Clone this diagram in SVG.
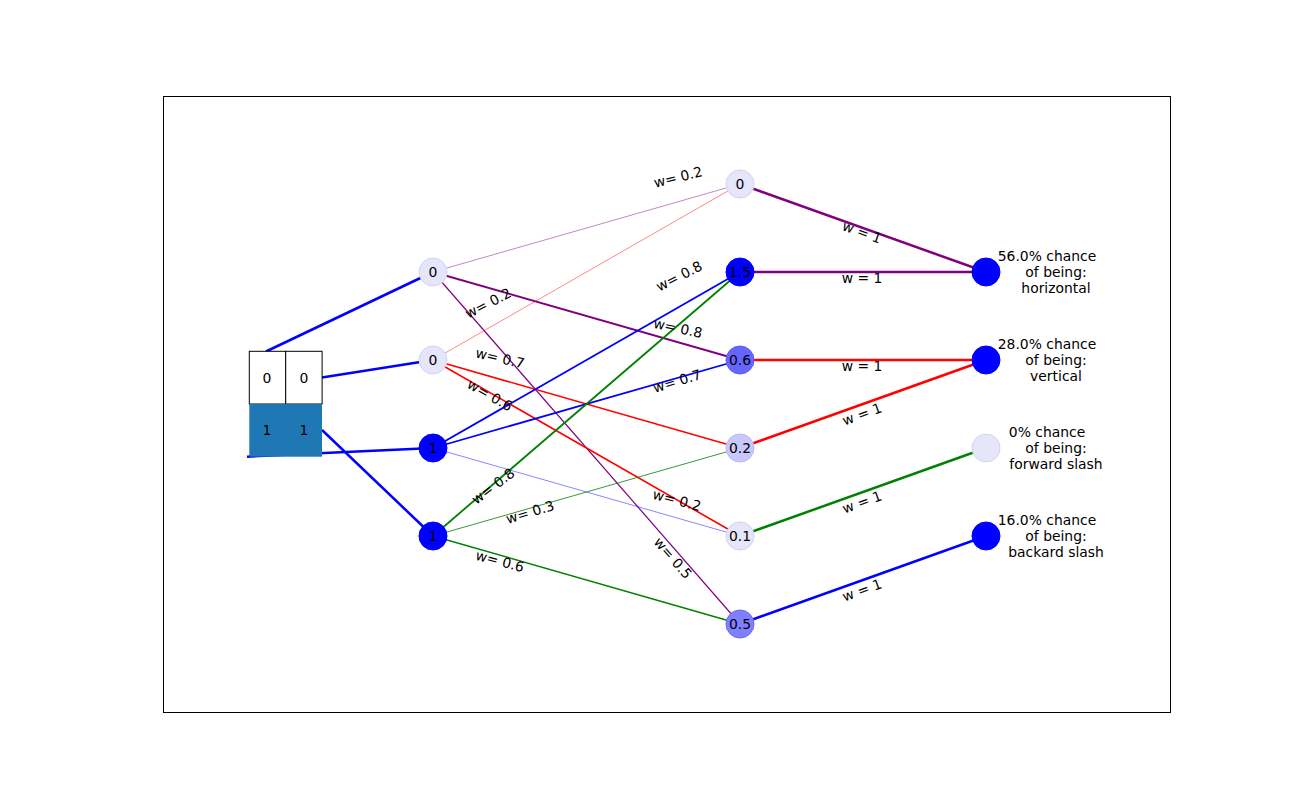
<svg xmlns="http://www.w3.org/2000/svg" width="1300" height="800" viewBox="0 0 1300 800">
<style>
text{font-family:"DejaVu Sans","Liberation Sans",sans-serif;font-size:13.9px;fill:#000}
.c{text-anchor:middle;dominant-baseline:central}
.e{fill:none;stroke-linecap:butt}
.lav{fill:#e6e6fa;stroke:#d2d2f8;stroke-width:1}
.blu{fill:#0000ff;stroke:#0000ff;stroke-width:1}
</style>
<rect x="0" y="0" width="1300" height="800" fill="#fff"/>
<rect x="163.5" y="96.5" width="1007" height="616" fill="none" stroke="#000" stroke-width="1"/>
<g id="connectors">
<line class="e" x1="266" y1="351.5" x2="433" y2="272" stroke="#0000ff" stroke-width="2.5"/>
<line class="e" x1="322" y1="377.5" x2="433" y2="360" stroke="#0000ff" stroke-width="2.5"/>
<line class="e" x1="247" y1="456.7" x2="433" y2="448" stroke="#0000ff" stroke-width="2.5"/>
<line class="e" x1="322" y1="430" x2="433" y2="536" stroke="#0000ff" stroke-width="2.5"/>
<line class="e" x1="433" y1="272" x2="740" y2="184" stroke="#800080" stroke-opacity="0.6" stroke-width="0.8"/>
<line class="e" x1="433" y1="272" x2="740" y2="360" stroke="#800080" stroke-width="2"/>
<line class="e" x1="433" y1="272" x2="740" y2="624" stroke="#800080" stroke-width="1.2"/>
<line class="e" x1="433" y1="360" x2="740" y2="184" stroke="#ff0000" stroke-opacity="0.6" stroke-width="0.8"/>
<line class="e" x1="433" y1="360" x2="740" y2="448" stroke="#ff0000" stroke-width="1.6"/>
<line class="e" x1="433" y1="360" x2="740" y2="536" stroke="#ff0000" stroke-width="1.6"/>
<line class="e" x1="433" y1="448" x2="740" y2="272" stroke="#0000ff" stroke-width="1.8"/>
<line class="e" x1="433" y1="448" x2="740" y2="360" stroke="#0000ff" stroke-width="1.8"/>
<line class="e" x1="433" y1="448" x2="740" y2="536" stroke="#0000ff" stroke-opacity="0.6" stroke-width="0.8"/>
<line class="e" x1="433" y1="536" x2="740" y2="272" stroke="#008000" stroke-width="1.8"/>
<line class="e" x1="433" y1="536" x2="740" y2="448" stroke="#008000" stroke-width="0.8"/>
<line class="e" x1="433" y1="536" x2="740" y2="624" stroke="#008000" stroke-width="1.5"/>
<line class="e" x1="740" y1="184" x2="986" y2="272" stroke="#800080" stroke-width="2.5"/>
<line class="e" x1="740" y1="272" x2="986" y2="272" stroke="#800080" stroke-width="2.5"/>
<line class="e" x1="740" y1="360" x2="986" y2="360" stroke="#ff0000" stroke-width="2.5"/>
<line class="e" x1="740" y1="448" x2="986" y2="360" stroke="#ff0000" stroke-width="2.5"/>
<line class="e" x1="740" y1="536" x2="986" y2="448" stroke="#008000" stroke-width="2.5"/>
<line class="e" x1="740" y1="624" x2="986" y2="536" stroke="#0000ff" stroke-width="2.5"/>
<text class="c" transform="translate(678,177) rotate(-14)">w= 0.2</text>
<text class="c" transform="translate(488,303) rotate(-27)">w= 0.2</text>
<text class="c" transform="translate(500,358) rotate(13)">w= 0.7</text>
<text class="c" transform="translate(490,395) rotate(30)">w= 0.6</text>
<text class="c" transform="translate(493,486) rotate(-37)">w= 0.8</text>
<text class="c" transform="translate(530,512) rotate(-17)">w= 0.3</text>
<text class="c" transform="translate(500,561) rotate(15)">w= 0.6</text>
<text class="c" transform="translate(679,276) rotate(-27)">w= 0.8</text>
<text class="c" transform="translate(678,328) rotate(12)">w= 0.8</text>
<text class="c" transform="translate(677,381) rotate(-17)">w= 0.7</text>
<text class="c" transform="translate(677,500) rotate(15)">w= 0.2</text>
<text class="c" transform="translate(673,558) rotate(49)">w= 0.5</text>
<text class="c" transform="translate(862,232) rotate(20)">w = 1</text>
<text class="c" transform="translate(862,278)">w = 1</text>
<text class="c" transform="translate(862,366)">w = 1</text>
<text class="c" transform="translate(862,414) rotate(-20)">w = 1</text>
<text class="c" transform="translate(862,502) rotate(-20)">w = 1</text>
<text class="c" transform="translate(862,590) rotate(-20)">w = 1</text>
</g>
<g id="input">
<rect x="249.3" y="351.3" width="36.4" height="52.7" fill="#fff" stroke="#000" stroke-width="1"/>
<rect x="285.7" y="351.3" width="36.4" height="52.7" fill="#fff" stroke="#000" stroke-width="1"/>
<rect x="249.3" y="404" width="72.7" height="52.7" fill="#1f77b4"/>
<text class="c" x="267" y="378">0</text>
<text class="c" x="304" y="378">0</text>
<text class="c" x="267" y="430">1</text>
<text class="c" x="304" y="430">1</text>
</g>
<g id="h1a"><circle class="lav" cx="433" cy="272" r="14"/><text class="c" x="433" y="272">0</text></g>
<g id="h1b"><circle class="lav" cx="433" cy="360" r="14"/><text class="c" x="433" y="360">0</text></g>
<g id="h1c"><circle class="blu" cx="433" cy="448" r="14"/><text class="c" x="433" y="448">1</text></g>
<g id="h1d"><circle class="blu" cx="433" cy="536" r="14"/><text class="c" x="433" y="536">1</text></g>
<g id="h2a"><circle class="lav" cx="740" cy="184" r="14"/><text class="c" x="740" y="184">0</text></g>
<g id="h2b"><circle class="blu" cx="740" cy="272" r="14"/><text class="c" x="740" y="272">1.5</text></g>
<g id="h2c"><circle cx="740" cy="360" r="14" fill="#6666ff" stroke="#5c5cf9" stroke-width="1"/><text class="c" x="740" y="360">0.6</text></g>
<g id="h2d"><circle cx="740" cy="448" r="14" fill="#c8c8fa" stroke="#b8b8f6" stroke-width="1"/><text class="c" x="740" y="448">0.2</text></g>
<g id="h2e"><circle class="lav" cx="740" cy="536" r="14" fill="#e0e0fa"/><text class="c" x="740" y="536">0.1</text></g>
<g id="h2f"><circle cx="740" cy="624" r="14" fill="#7f7fff" stroke="#6a6afa" stroke-width="1"/><text class="c" x="740" y="624">0.5</text></g>
<g id="out1"><circle class="blu" cx="986" cy="272" r="14"/>
<text class="c" x="1047" y="256">56.0% chance</text><text class="c" x="1056" y="272">of being:</text><text class="c" x="1056" y="287.5">horizontal</text></g>
<g id="out2"><circle class="blu" cx="986" cy="360" r="14"/>
<text class="c" x="1047" y="344">28.0% chance</text><text class="c" x="1056" y="360">of being:</text><text class="c" x="1056" y="375.5">vertical</text></g>
<g id="out3"><circle class="lav" cx="986" cy="448" r="14"/>
<text class="c" x="1047" y="432">0% chance</text><text class="c" x="1056" y="448">of being:</text><text class="c" x="1056" y="463.5">forward slash</text></g>
<g id="out4"><circle class="blu" cx="986" cy="536" r="14"/>
<text class="c" x="1047" y="520">16.0% chance</text><text class="c" x="1056" y="536">of being:</text><text class="c" x="1056" y="551.5">backard slash</text></g>
</svg>
